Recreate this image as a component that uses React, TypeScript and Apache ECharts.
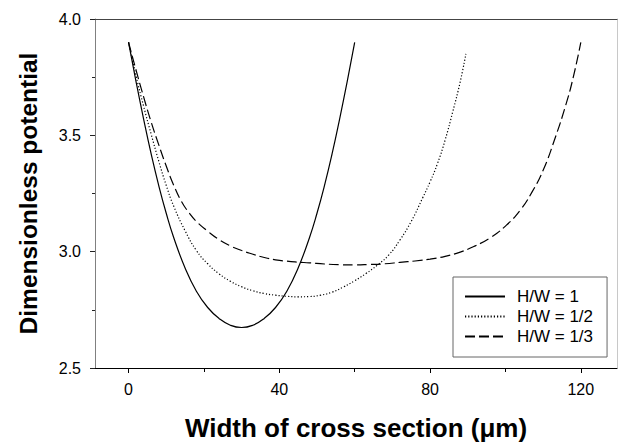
import React, { useEffect, useRef } from "react";
import * as echarts from "echarts";

// ---- data ----
const seriesNames = ["H/W = 1", "H/W = 1/2", "H/W = 1/3"];

const solidX = [0, 2, 4, 6, 8, 10, 12, 15, 18, 21, 24, 27, 30, 33, 36, 39, 42, 45, 48, 50, 52, 54, 56, 58, 60];
const solidY = [3.9, 3.73, 3.57, 3.42, 3.285, 3.165, 3.06, 2.93, 2.83, 2.76, 2.713, 2.684, 2.674, 2.684, 2.713, 2.76, 2.83, 2.93, 3.06, 3.165, 3.285, 3.42, 3.57, 3.73, 3.9];

const dottedX = [0, 2, 4, 6, 8, 10, 12, 15, 18, 21, 24, 27, 30, 33, 36, 39, 42, 45, 48, 51, 54, 57, 60, 63, 66, 69, 72, 75, 78, 80, 82, 84, 86, 88, 89.5];
const dottedY = [3.9, 3.755, 3.625, 3.505, 3.39, 3.285, 3.195, 3.09, 3.005, 2.948, 2.905, 2.873, 2.849, 2.832, 2.82, 2.813, 2.808, 2.806, 2.807, 2.813, 2.826, 2.848, 2.875, 2.906, 2.942, 2.985, 3.05, 3.13, 3.23, 3.3, 3.38, 3.48, 3.6, 3.73, 3.85];

const dashedX = [0, 2, 4, 6, 8, 10, 12, 14, 16, 18, 21, 24, 27, 30, 33, 36, 39, 42, 45, 48, 52, 56, 60, 64, 68, 72, 76, 80, 84, 88, 92, 96, 100, 104, 107, 110, 113, 116, 118, 120];
const dashedY = [3.9, 3.78, 3.665, 3.557, 3.46, 3.368, 3.285, 3.217, 3.168, 3.13, 3.088, 3.052, 3.025, 3.005, 2.989, 2.975, 2.965, 2.959, 2.955, 2.952, 2.947, 2.944, 2.943, 2.945, 2.948, 2.954, 2.96, 2.968, 2.98, 2.998, 3.025, 3.06, 3.11, 3.18, 3.255, 3.35, 3.48, 3.63, 3.75, 3.9];

const xTickValues = [0, 40, 80, 120];
const xMinorTickValues = [20, 60, 100];
const X_MIN = -8.9;
const X_MAX = 129.6;
const Y_MIN = 2.5;
const Y_MAX = 4.0;
const Y_INTERVAL = 0.5;

const xTitle = "Width of cross section (μm)";
const yTitle = "Dimensionless potential";

const FONT = "'Liberation Sans', Arial, Helvetica, sans-serif";

export default function App() {
  const ref = useRef<HTMLDivElement>(null);

  useEffect(() => {
    document.body.style.margin = "0";
    const chart = echarts.init(ref.current as HTMLDivElement, null, { renderer: "svg" });
    const pairs = (xs: number[], ys: number[]) => xs.map((x, i) => [x, ys[i]]);
    const grid = { left: 95, right: 1, top: 19, bottom: 77, containLabel: false };

    chart.setOption({
      animation: false,
      backgroundColor: "#ffffff",
      textStyle: { fontFamily: FONT },
      grid: [grid, { ...grid }],
      xAxis: [
        {
          type: "value",
          gridIndex: 0,
          position: "bottom",
          min: X_MIN,
          max: X_MAX,
          axisLine: { onZero: false, lineStyle: { color: "#000", width: 1 } },
          axisTick: { customValues: xTickValues, length: 5, lineStyle: { color: "#000" } },
          axisLabel: { customValues: xTickValues, fontSize: 16, color: "#000", margin: 13, fontFamily: FONT },
          splitLine: { show: false },
          name: xTitle,
          nameLocation: "middle",
          nameGap: 47,
          nameTextStyle: { fontSize: 26, fontWeight: "bold", color: "#000", fontFamily: FONT },
        },
        {
          type: "value",
          gridIndex: 0,
          position: "top",
          min: X_MIN,
          max: X_MAX,
          axisLine: { onZero: false, lineStyle: { color: "#444", width: 1 } },
          axisTick: { show: false },
          axisLabel: { show: false },
          splitLine: { show: false },
        },
        {
          type: "value",
          gridIndex: 1,
          position: "bottom",
          min: X_MIN,
          max: X_MAX,
          axisLine: { show: false, onZero: false },
          axisTick: { customValues: xMinorTickValues, length: 3, lineStyle: { color: "#000" } },
          axisLabel: { show: false },
          splitLine: { show: false },
        },
      ],
      yAxis: [
        {
          type: "value",
          gridIndex: 0,
          position: "left",
          min: Y_MIN,
          max: Y_MAX,
          interval: Y_INTERVAL,
          axisLine: { show: true, onZero: false, lineStyle: { color: "#808080", width: 1 } },
          axisTick: { show: true, length: 5, lineStyle: { color: "#222" } },
          minorTick: { show: true, splitNumber: 2, length: 3, lineStyle: { color: "#222" } },
          axisLabel: {
            fontSize: 16,
            color: "#000",
            margin: 14,
            fontFamily: FONT,
            formatter: (v: number) => v.toFixed(1),
          },
          splitLine: { show: false },
          minorSplitLine: { show: false },
          name: yTitle,
          nameLocation: "middle",
          nameGap: 54,
          nameTextStyle: { fontSize: 24.5, fontWeight: "bold", color: "#000", fontFamily: FONT },
        },
        {
          type: "value",
          gridIndex: 0,
          position: "right",
          min: Y_MIN,
          max: Y_MAX,
          axisLine: { show: true, onZero: false, lineStyle: { color: "#c8c8c8", width: 1 } },
          axisTick: { show: false },
          axisLabel: { show: false },
          splitLine: { show: false },
        },
        {
          type: "value",
          gridIndex: 1,
          min: Y_MIN,
          max: Y_MAX,
          show: false,
        },
      ],
      legend: {
        data: seriesNames,
        orient: "vertical",
        left: 453,
        top: 277,
        itemWidth: 40,
        itemHeight: 14,
        itemGap: 3,
        padding: [11, 14, 12, 11],
        borderColor: "#666",
        borderWidth: 1,
        backgroundColor: "#fff",
        selectedMode: false,
        itemStyle: { color: "rgba(0,0,0,0)", borderWidth: 0, opacity: 0 },
        textStyle: { fontSize: 17, color: "#000", fontFamily: FONT, lineHeight: 17, padding: [0, 0, 0, 7] },
      },
      series: [
        {
          name: seriesNames[0],
          type: "line",
          xAxisIndex: 0,
          yAxisIndex: 0,
          data: pairs(solidX, solidY),
          smooth: true,
          symbol: "none",
          lineStyle: { color: "#000", width: 1.2, type: "solid" },
          itemStyle: { color: "#000" },
        },
        {
          name: seriesNames[1],
          type: "line",
          xAxisIndex: 0,
          yAxisIndex: 0,
          data: pairs(dottedX, dottedY),
          smooth: true,
          symbol: "none",
          lineStyle: { color: "#000", width: 1.2, type: [1.2, 2] },
          itemStyle: { color: "#000" },
        },
        {
          name: seriesNames[2],
          type: "line",
          xAxisIndex: 0,
          yAxisIndex: 0,
          data: pairs(dashedX, dashedY),
          smooth: true,
          symbol: "none",
          lineStyle: { color: "#000", width: 1.2, type: [10, 4] },
          itemStyle: { color: "#000" },
        },
      ],
    });

    return () => {
      chart.dispose();
    };
  }, []);

  return <div ref={ref} style={{ width: 618, height: 446 }} />;
}
